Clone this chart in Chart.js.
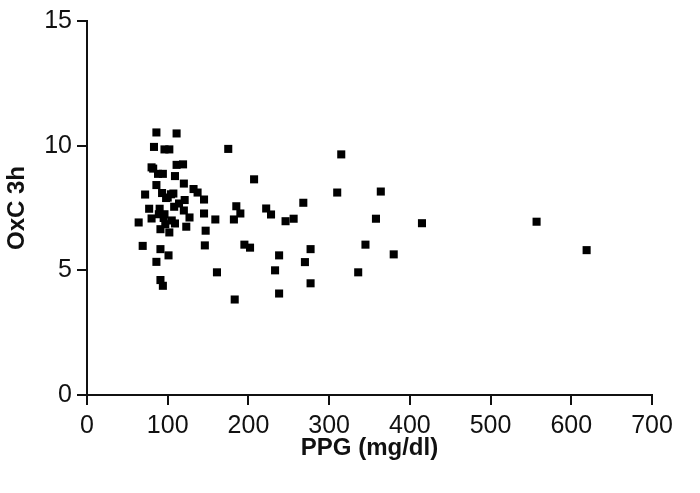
<!DOCTYPE html>
<html>
<head>
<meta charset="utf-8">
<script src="https://cdn.jsdelivr.net/npm/chart.js@4"></script>
<style>
  html, body { margin: 0; padding: 0; background: #fff; }
  #wrap { width: 700px; height: 493px; }
</style>
</head>
<body>
<div id="wrap"><canvas id="scatter" width="700" height="493"></canvas></div>
<script>
// PPG values (x) and OxC 3h values (y)
var ppg = [64, 69, 72, 77, 80, 80, 82, 83, 86, 86, 86, 88, 89, 90, 91, 91, 91, 93, 94, 94,
           95, 96, 96, 97, 98, 100, 101, 102, 102, 104, 105, 107, 108, 109, 109, 111, 111, 114, 119, 120,
           120, 121, 123, 127, 132, 137, 145, 145, 147, 146, 159, 161, 175, 182, 185, 190, 183, 195, 202, 207,
           222, 228, 233, 238, 238, 246, 256, 268, 270, 277, 277, 310, 315, 336, 345, 358, 364, 380, 415, 557,
           619];
var oxc = [6.92, 5.98, 8.04, 7.47, 7.08, 9.13, 9.08, 9.95, 10.53, 8.42, 5.34, 8.87, 7.25, 7.47, 6.65, 5.85, 4.61, 8.10, 4.38, 8.87,
           7.10, 9.85, 7.25, 6.85, 7.90, 7.92, 5.60, 9.85, 6.52, 8.05, 7.00, 8.08, 7.55, 8.78, 6.88, 10.49, 9.23, 7.68, 9.25, 8.48,
           7.40, 7.82, 6.75, 7.12, 8.26, 8.12, 7.84, 7.28, 6.59, 6.00, 7.04, 4.92, 9.87, 7.04, 7.57, 7.28, 3.83, 6.03, 5.91, 8.65,
           7.48, 7.24, 5.00, 5.60, 4.07, 6.97, 7.07, 7.71, 5.33, 5.85, 4.48, 8.12, 9.65, 4.92, 6.03, 7.07, 8.16, 5.64, 6.89, 6.95,
           5.81];
var xTicks = [0, 100, 200, 300, 400, 500, 600, 700];
var yTicks = [0, 5, 10, 15];

var points = [];
for (var i = 0; i < ppg.length; i++) {
  points.push({x: ppg[i], y: oxc[i]});
}

var labelFont = {family: "'Liberation Sans', Arial, sans-serif", size: 25};
var titleFont = {family: "'Liberation Sans', Arial, sans-serif", size: 24, weight: 'bold'};

const config = {
  type: 'scatter',
  data: {
    datasets: [{
      data: points,
      pointStyle: 'rect',
      pointRadius: 5.7,
      backgroundColor: '#000',
      borderWidth: 0
    }]
  },
  options: {
    responsive: false,
    animation: false,
    layout: { padding: {top: 21, right: 48, bottom: 0, left: 0} },
    plugins: { legend: {display: false}, tooltip: {enabled: false} },
    scales: {
      x: {
        type: 'linear',
        min: xTicks[0],
        max: xTicks[xTicks.length - 1],
        afterBuildTicks: function(scale){ scale.ticks = xTicks.map(function(v){ return {value: v}; }); },
        afterFit: function(scale){ scale.height = 98; },
        border: {color: '#111', width: 2},
        grid: {drawOnChartArea: false, drawTicks: true, tickLength: 10, color: '#111', lineWidth: 2},
        ticks: {color: '#111', font: labelFont, padding: 6, maxRotation: 0},
        title: {display: true, text: 'PPG (mg/dl)', color: '#111', font: titleFont, padding: {top: 0, bottom: 30}}
      },
      y: {
        type: 'linear',
        min: yTicks[0],
        max: yTicks[yTicks.length - 1],
        afterBuildTicks: function(scale){ scale.ticks = yTicks.map(function(v){ return {value: v}; }); },
        afterFit: function(scale){ scale.width = 87; },
        border: {color: '#111', width: 2},
        grid: {drawOnChartArea: false, drawTicks: true, tickLength: 10, color: '#111', lineWidth: 2},
        ticks: {color: '#111', font: labelFont, padding: 5},
        title: {display: true, text: 'OxC 3h', color: '#111', font: titleFont, padding: {top: 3, bottom: 0}}
      }
    }
  }
};

const myChart = new Chart(document.getElementById('scatter'), config);
</script>
</body>
</html>
